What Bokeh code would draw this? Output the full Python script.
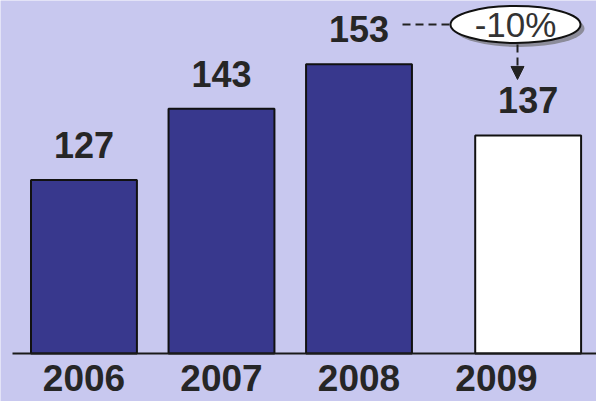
from bokeh.plotting import figure
from bokeh.models import ColumnDataSource, Arrow, NormalHead, Range1d
from bokeh.core.properties import value
from bokeh.embed import file_html
from bokeh.resources import INLINE

# Annual figures; the last year is a projection
years = ["2006", "2007", "2008", "2009"]
amounts = [127, 143, 153, 137]
projected = [False, False, False, True]
change_label = "-10%"

W, H = 596, 401
BASE = 88            # value sitting on the baseline
GAP = 0.23           # extra spacing before the projected year
BAR_W = 0.77

BG = "#c8c8ef"
NAVY = "#38388d"
INK = "#262626"

# Plot ranges chosen so the frame fills the whole canvas
X0, X1 = -0.607, 3.727
Y0, Y1 = 77.21, 167.33


def dx(px):
    return X0 + px * (X1 - X0) / W


def dy(py):
    return Y1 - py * (Y1 - Y0) / H


def py(v):
    return (Y1 - v) * H / (Y1 - Y0)


idx = list(range(len(years)))
xs = [i + (GAP if proj else 0.0) for i, proj in zip(idx, projected)]
fills = ["white" if proj else NAVY for proj in projected]

src = ColumnDataSource(dict(
    idx=idx, x=xs, year=years, amount=amounts,
    label=[str(a) for a in amounts], fill=fills,
))

p = figure(width=W, height=H, output_backend="svg", toolbar_location=None,
           x_range=Range1d(X0, X1), y_range=Range1d(Y0, Y1),
           min_border=0, outline_line_color=None,
           background_fill_color=BG, border_fill_color=BG)
p.axis.visible = False
p.grid.visible = False

# Bars
p.vbar(x="x", top="amount", bottom=BASE, width=BAR_W, source=src,
       fill_color="fill", line_color="#111111", line_width=2)

# Baseline
p.segment(x0=[dx(12)], y0=[BASE], x1=[X1], y1=[BASE],
          line_color="#1a1a1a", line_width=2)

# Value labels above the bars
p.text(x="x", y="amount", text="label", source=src,
       text_align="center", text_baseline="bottom", y_offset=-22,
       text_font=value("Liberation Sans"), text_font_style="bold",
       text_font_size="36px", text_color=INK)

# Year labels under the baseline
p.text(x="idx", y=BASE, text="year", source=src,
       text_align="center", text_baseline="top", y_offset=12,
       text_font=value("Liberation Sans"), text_font_style="bold",
       text_font_size="37px", text_color=INK)

# Change bubble with a soft shadow
ex, ey = dx(515), dy(24)
p.ellipse(x=[dx(519)], y=[dy(28)], width=[130], height=[37],
          width_units="screen", height_units="screen",
          fill_color="#8c8c9a", line_color=None)
p.ellipse(x=[ex], y=[ey], width=[130], height=[37],
          width_units="screen", height_units="screen",
          fill_color="white", line_color="#111111", line_width=2)
p.text(x=[ex], y=[ey], text=[change_label],
       text_align="center", text_baseline="middle",
       text_font=value("Liberation Sans"), text_font_size="35px",
       text_color="#333333")

# Dashed connector from the 2008 value to the bubble
p.line(x=[dx(402), dx(450)], y=[dy(24), dy(24)],
       line_color="#222222", line_width=2, line_dash="8 5")

# Dashed arrow from the bubble down to the projected value
arrow_x = dx(517)
arrow_end = py(amounts[-1]) - 22 - 28 - 6
p.add_layout(Arrow(end=NormalHead(size=13, fill_color="#222222",
                                  line_color="#222222"),
                   x_start=arrow_x, y_start=dy(44),
                   x_end=arrow_x, y_end=dy(arrow_end),
                   line_color="#222222", line_width=2, line_dash="8 5"))

open("out.html", "w").write(file_html(p, INLINE))
